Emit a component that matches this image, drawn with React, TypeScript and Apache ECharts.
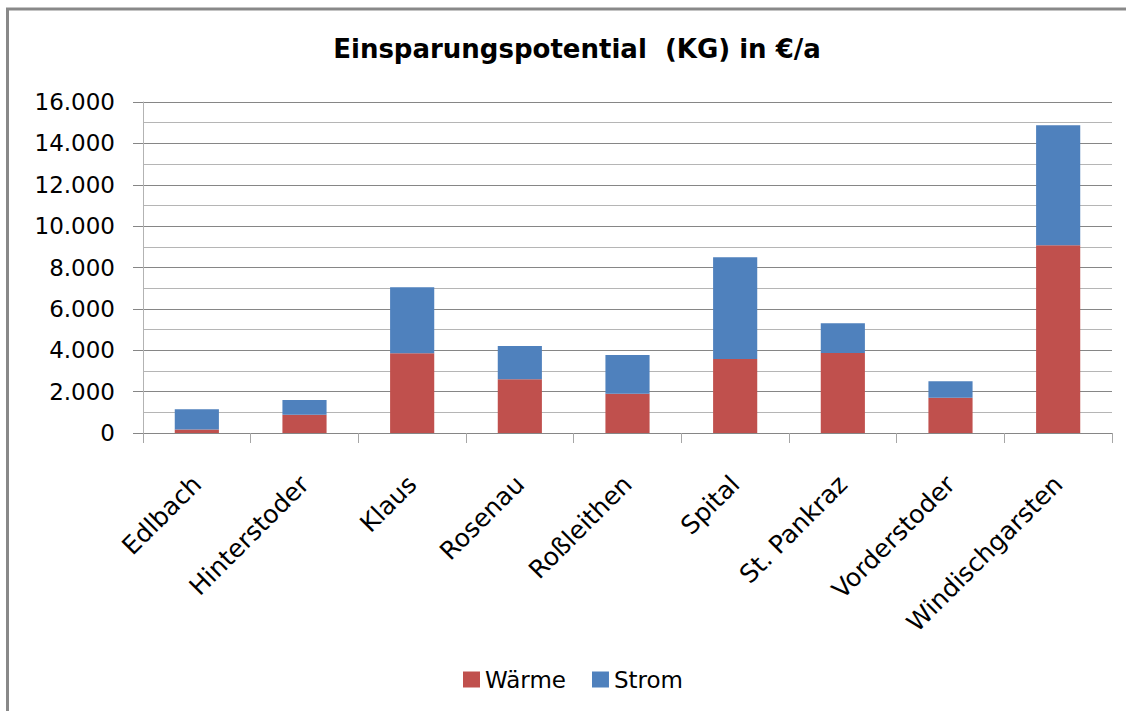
import React, { useEffect, useRef } from "react";
import * as echarts from "echarts";

const categories = [
  "Edlbach",
  "Hinterstoder",
  "Klaus",
  "Rosenau",
  "Roßleithen",
  "Spital",
  "St. Pankraz",
  "Vorderstoder",
  "Windischgarsten",
];
const waerme = [170, 880, 3850, 2600, 1900, 3580, 3870, 1700, 9080];
const strom = [980, 720, 3200, 1600, 1870, 4920, 1430, 800, 5800];
const yTicks = [0, 2000, 4000, 6000, 8000, 10000, 12000, 14000, 16000];

const titleText = "Einsparungspotential  (KG) in €/a";
const FONT = "DejaVu Sans";

export default function App() {
  const ref = useRef<HTMLDivElement>(null);

  useEffect(() => {
    if (!ref.current) return;
    const chart = echarts.init(ref.current, undefined, { renderer: "svg" });
    const fmt = (v: number) =>
      v === 0 ? "0" : `${Math.floor(v / 1000)}.${String(v % 1000).padStart(3, "0")}`;
    chart.setOption({
      animation: false,
      backgroundColor: "#ffffff",
      title: {
        text: titleText,
        left: 572,
        top: 31,
        textAlign: "center",
        textStyle: { fontFamily: FONT, fontWeight: "bold", fontSize: 26, color: "#000" },
      },
      legend: {
        data: ["Wärme", "Strom"],
        left: 458,
        top: 663,
        itemWidth: 17,
        itemHeight: 16,
        itemGap: 26,
        icon: "rect",
        textStyle: { fontFamily: FONT, fontSize: 23, color: "#000", padding: [0, 0, 0, 0] },
      },
      grid: { left: 143, right: 14, top: 102, height: 331 },
      xAxis: {
        type: "category",
        data: categories,
        axisLine: { lineStyle: { color: "#868686", width: 1 } },
        axisTick: { show: true, length: 10, lineStyle: { color: "#a6a6a6" } },
        axisLabel: {
          rotate: 45,
          interval: 0,
          margin: 47,
          verticalAlign: "middle",
          fontFamily: FONT,
          fontSize: 25,
          color: "#000",
        },
      },
      yAxis: {
        type: "value",
        min: 0,
        max: yTicks[yTicks.length - 1],
        interval: 2000,
        axisLine: { show: true, lineStyle: { color: "#b3b3b3" } },
        axisTick: { show: true, length: 10, lineStyle: { color: "#868686" } },
        axisLabel: {
          margin: 28,
          fontFamily: FONT,
          fontSize: 23,
          color: "#000",
          formatter: (v: number) => fmt(v),
        },
        splitLine: { show: true, lineStyle: { color: "#868686", width: 1 } },
        minorTick: { show: false, splitNumber: 2 },
        minorSplitLine: { show: true, lineStyle: { color: "#b5b5b5", width: 1 } },
      },
      series: [
        {
          name: "Wärme",
          type: "bar",
          stack: "total",
          data: waerme,
          barWidth: "41%",
          itemStyle: { color: "#C0504D" },
        },
        {
          name: "Strom",
          type: "bar",
          stack: "total",
          data: strom,
          barWidth: "41%",
          itemStyle: { color: "#4F81BD" },
        },
      ],
      graphic: [
        {
          type: "line",
          shape: { x1: 7.5, y1: 8, x2: 7.5, y2: 711 },
          style: { stroke: "#898989", lineWidth: 3 },
        },
        {
          type: "line",
          shape: { x1: 6, y1: 9, x2: 1126, y2: 9 },
          style: { stroke: "#898989", lineWidth: 3 },
        },
      ],
    });
    return () => chart.dispose();
  }, []);

  return (
    <div
      ref={ref}
      style={{ position: "absolute", left: 0, top: 0, width: 1126, height: 711 }}
    />
  );
}
